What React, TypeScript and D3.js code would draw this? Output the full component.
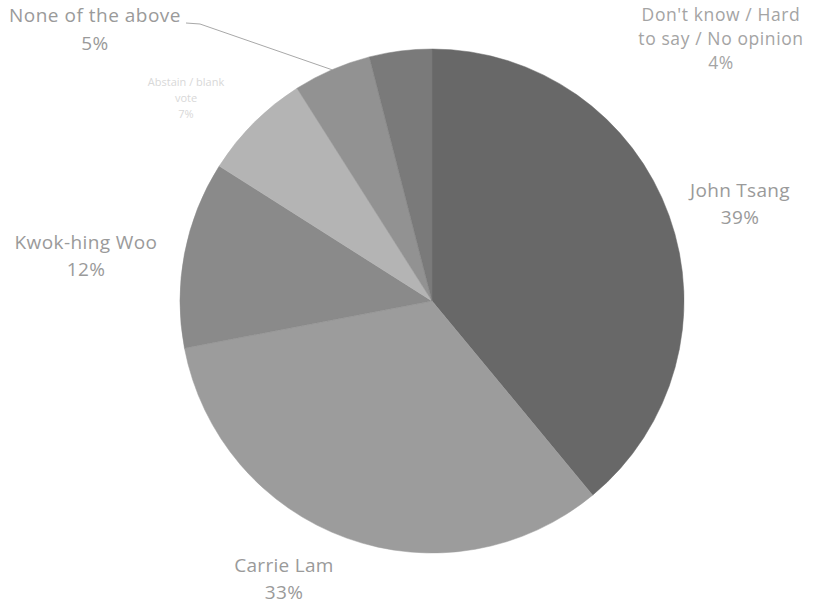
import React from "react";
import * as d3 from "d3";

// Poll shares, clockwise from 12 o'clock
const candidates = [
  "John Tsang",
  "Carrie Lam",
  "Kwok-hing Woo",
  "Abstain / blank vote",
  "None of the above",
  "Don't know / Hard to say / No opinion",
];
const shares = [39, 33, 12, 7, 5, 4];
const sliceColors = ["#686868", "#9c9c9c", "#8a8a8a", "#b4b4b4", "#929292", "#7a7a7a"];

// Label text lines per slice
const labelLines = [
  ["John Tsang", "39%"],
  ["Carrie Lam", "33%"],
  ["Kwok-hing Woo", "12%"],
  ["Abstain / blank", "vote", "7%"],
  ["None of the above", "5%"],
  ["Don't know / Hard", "to say / No opinion", "4%"],
];

const W = 817;
const H = 606;
const cx = 432;
const cy = 301;
const radius = 252;

// Label anchor (centre of first line baseline) and styling per slice
const labelAnchors: [number, number][] = [
  [740, 197],
  [284, 572],
  [86, 249],
  [186, 86],
  [95, 22],
  [721, 21],
];
const labelLineGap = [27, 27, 27, 16, 28, 24];
const labelSize = [19, 19, 19, 11, 19, 17.5];
const labelSpacing = [0.3, 0.3, 0.4, 0, 0.5, 0.6];
const labelFill = ["#9a9a9a", "#9a9a9a", "#9a9a9a", "#d8d8d8", "#9a9a9a", "#a4a4a4"];

export default function App() {
  const pie = d3
    .pie<number>()
    .sort(null)
    .startAngle(0)
    .endAngle(2 * Math.PI)
    .value((d) => d);
  const arcs = pie(shares);
  const arc = d3.arc<d3.PieArcDatum<number>>().innerRadius(0).outerRadius(radius);

  // leader line from "None of the above" to its slice edge
  const noneArc = arcs[4];
  const midA = (noneArc.startAngle + noneArc.endAngle) / 2;
  const edge: [number, number] = [
    cx + Math.sin(midA) * radius,
    cy - Math.cos(midA) * radius,
  ];
  const leader = d3.line()([
    [186, 23],
    [200, 24],
    edge,
  ]);

  return (
    <svg
      width={W}
      height={H}
      style={{ position: "absolute", left: 0, top: 0, background: "#fff" }}
      fontFamily="'Open Sans', 'Noto Sans', sans-serif"
    >
      <g transform={`translate(${cx},${cy})`}>
        {arcs.map((a, i) => (
          <path
            key={candidates[i]}
            d={arc(a) || ""}
            fill={sliceColors[i]}
            stroke={sliceColors[i]}
            strokeWidth={0.5}
          />
        ))}
      </g>
      <path d={leader || ""} fill="none" stroke="#a8a8a8" strokeWidth={1} />
      {labelLines.map((lines, i) => (
        <text
          key={candidates[i]}
          textAnchor="middle"
          fontSize={labelSize[i]}
          letterSpacing={labelSpacing[i]}
          fill={labelFill[i]}
        >
          {lines.map((t, j) => (
            <tspan key={j} x={labelAnchors[i][0]} y={labelAnchors[i][1] + j * labelLineGap[i]}>
              {t}
            </tspan>
          ))}
        </text>
      ))}
    </svg>
  );
}
